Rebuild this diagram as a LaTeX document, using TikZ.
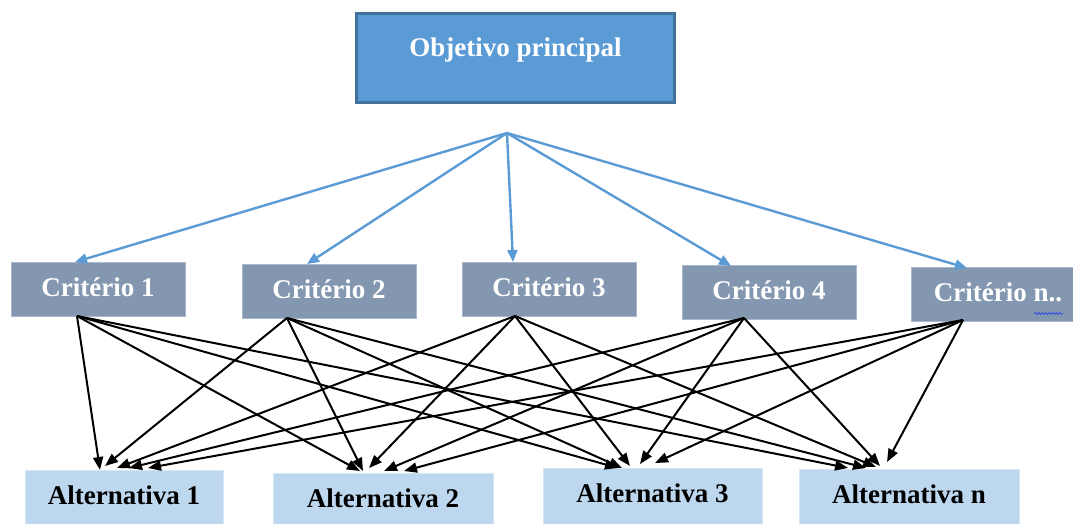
\documentclass[tikz,border=0pt]{standalone}
\usepackage{fontspec}
\setmainfont{Liberation Serif}
\usetikzlibrary{arrows.meta,decorations.pathmorphing}
\definecolor{goalfill}{HTML}{5B9BD5}
\definecolor{goalline}{HTML}{41719C}
\definecolor{critfill}{HTML}{8497B0}
\definecolor{critline}{HTML}{A9B8CC}
\definecolor{altfill}{HTML}{BDD7EE}
\definecolor{altline}{HTML}{D6E6F5}
\definecolor{linkblue}{HTML}{5B9BD5}
\definecolor{spellblue}{HTML}{2F4FE0}
\begin{document}
\begin{tikzpicture}[x=1pt,y=-1pt,
  boxfont/.style={font=\fontsize{27}{31}\selectfont\bfseries},
  goalbox/.style={boxfont, draw=goalline, line width=2.5pt, fill=goalfill, text=white,
    minimum width=318pt, minimum height=89pt, inner sep=0pt, text height=18.5pt, text depth=22.5pt},
  critbox/.style={boxfont, draw=critline, line width=0.6pt, fill=critfill, text=white,
    minimum width=174pt, minimum height=54pt, inner sep=0pt, text height=18.5pt, text depth=4.5pt},
  altbox/.style={boxfont, draw=altline, line width=0.6pt, fill=altfill, text=black,
    minimum height=60pt, inner sep=0pt, text height=18.5pt, text depth=10.5pt},
  toplink/.style={draw=linkblue, line width=2.4pt, -{Triangle[length=12pt,width=10pt]}},
  lowlink/.style={draw=black, line width=2pt, -{Triangle[length=13pt,width=10pt]}}]
\useasboundingbox (0,0) rectangle (1073,523);
\clip (0,0) rectangle (1073,523);

% goal
\node[goalbox] (goal) at (515.5,58) {Objetivo principal};

% criteria
\node[critbox] (c1) at (98,289) {Critério 1};
\node[critbox] (c2) at (329,291) {Critério 2};
\node[critbox] (c3) at (549,289) {Critério 3};
\node[critbox] (c4) at (769,292) {Critério 4};
\node[critbox] (c5) at (998,294) {Critério n..};
\draw[spellblue, line width=0.8pt, decorate,
  decoration={snake, amplitude=1pt, segment length=3.5pt}] (1034,313.5) -- (1063,313.5);

% alternatives
\node[altbox, minimum width=198pt] (a1) at (124,500) {Alternativa 1};
\node[altbox, minimum width=220pt] (a2) at (383,503) {Alternativa 2};
\node[altbox, minimum width=219pt] (a3) at (652.5,498) {Alternativa 3};
\node[altbox, minimum width=220pt] (a4) at (909,499) {Alternativa n};

% fan-out point below the goal and the criterion entry points
\coordinate (hub) at (507,133);
\foreach \c/\x/\y in {1/75/262, 2/307/264, 3/513/262, 4/731/266, 5/967/268}
  \coordinate (in\c) at (\x,\y);
\foreach \c in {1,...,5}
  \draw[toplink] (hub) -- (in\c);

% criterion exit points
\foreach \c/\x/\y in {1/77/316, 2/287/318, 3/515/316, 4/744/318, 5/963/320}
  \coordinate (out\c) at (\x,\y);

% alternative entry points, one per criterion
\foreach \a/\c/\x/\y in {
  1/1/100/470, 1/2/105/466, 1/3/117/468, 1/4/129/468, 1/5/148/468,
  2/1/360/471, 2/2/363/471, 2/3/369/468, 2/4/384/471, 2/5/404/471,
  3/1/618/468, 3/2/622/468, 3/3/630/466, 3/4/640/464, 3/5/655/463,
  4/1/848/468, 4/2/866/468, 4/3/876/467, 4/4/880/466, 4/5/887/462}
  \coordinate (t\a\c) at (\x,\y);

\foreach \a in {1,...,4}
  \foreach \c in {1,...,5}
    \draw[lowlink] (out\c) -- (t\a\c);
\end{tikzpicture}
\end{document}
